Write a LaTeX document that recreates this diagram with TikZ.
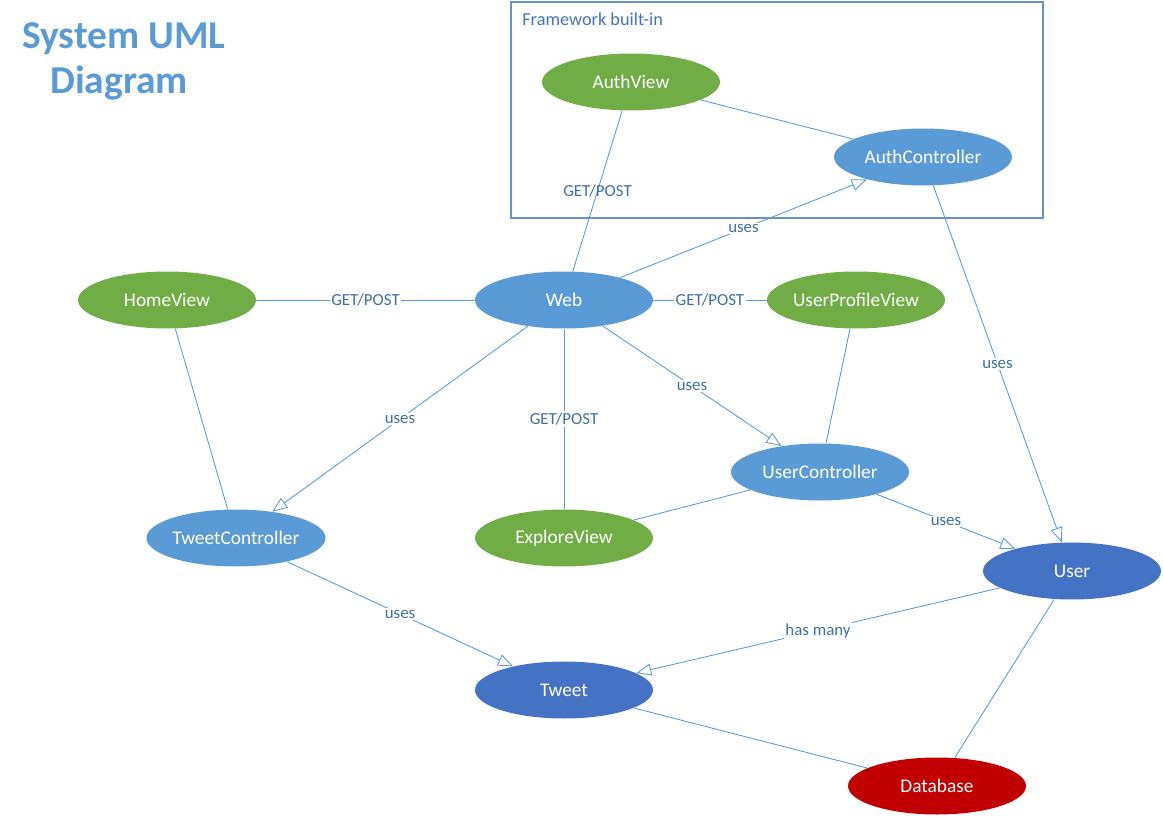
\documentclass[tikz,border=0pt]{standalone}
\usepackage{fontspec}
\setmainfont{Carlito}
\usetikzlibrary{shapes.geometric,arrows.meta}

\definecolor{viewgreen}{HTML}{70AD47}
\definecolor{ctrlblue}{HTML}{5B9BD5}
\definecolor{modelblue}{HTML}{4472C4}
\definecolor{dbred}{HTML}{C00000}
\definecolor{lblcolor}{HTML}{3F6FA6}

\begin{document}
\begin{tikzpicture}[
  x=0.02cm, y=-0.02cm,
  blob/.style={ellipse, minimum width=3.56cm, minimum height=1.14cm, inner sep=0pt,
    text=white, font=\fontsize{11}{13}\selectfont},
  view/.style={blob, fill=viewgreen},
  ctrl/.style={blob, fill=ctrlblue},
  model/.style={blob, fill=modelblue},
  store/.style={blob, fill=dbred},
  link/.style={draw=ctrlblue, line width=0.5pt},
  uses/.style={link, -{Triangle[open, length=0.3cm, width=0.24cm, fill=white]}},
  lbl/.style={fill=white, inner sep=1pt, text=lblcolor, font=\fontsize{9.6}{11}\selectfont}
]
\useasboundingbox (0,0) rectangle (1163,818);

% title and framework box
\node[anchor=north west, align=left, inner sep=0pt, text=ctrlblue, font=\bfseries\fontsize{22.5}{26}\selectfont]
  (title) at (22,22) {System UML\\\hspace*{0.56cm}Diagram};
\draw[modelblue!80, line width=0.6pt] (511,2) rectangle (1043,218);
\node[anchor=west, inner sep=0pt, text=modelblue, font=\fontsize{10.4}{12}\selectfont] (fw) at (522,19) {Framework built-in};

% nodes
\node[view]  (authview) at (631,82)  {AuthView};
\node[ctrl]  (authctrl) at (923,157) {AuthController};
\node[view]  (home)     at (167,300) {HomeView};
\node[ctrl]  (web)      at (564,300) {Web};
\node[view]  (profile)  at (856,300) {UserProfileView};
\node[ctrl]  (userctrl) at (820,472) {UserController};
\node[ctrl]  (tweetctrl) at (236,538) {TweetController};
\node[view]  (explore)  at (564,538) {ExploreView};
\node[model] (user)     at (1072,571) {User};
\node[model] (tweet)    at (564,690) {Tweet};
\node[store] (db)       at (937,786) {Database};

% connectors
\draw[link] (authview) -- node[lbl, fill=none] {GET/POST} (web);
\draw[link] (authview) -- (authctrl);
\draw[uses] (web) -- node[lbl] {uses} (authctrl);
\draw[link] (home) -- node[lbl] {GET/POST} (web);
\draw[link] (web) -- node[lbl] {GET/POST} (profile);
\draw[link] (home) -- (tweetctrl);
\draw[uses] (web) -- node[lbl] {uses} (tweetctrl);
\draw[link] (web) -- node[lbl] {GET/POST} (explore);
\draw[uses] (web) -- node[lbl] {uses} (userctrl);
\draw[link] (profile) -- (userctrl);
\draw[link] (explore) -- (userctrl);
\draw[uses] (userctrl) -- node[lbl] {uses} (user);
\draw[uses] (authctrl) -- node[lbl] {uses} (user);
\draw[uses] (tweetctrl) -- node[lbl] {uses} (tweet);
\draw[uses] (user) -- node[lbl] {has many} (tweet);
\draw[link] (user) -- (db);
\draw[link] (tweet) -- (db);
\end{tikzpicture}
\end{document}
